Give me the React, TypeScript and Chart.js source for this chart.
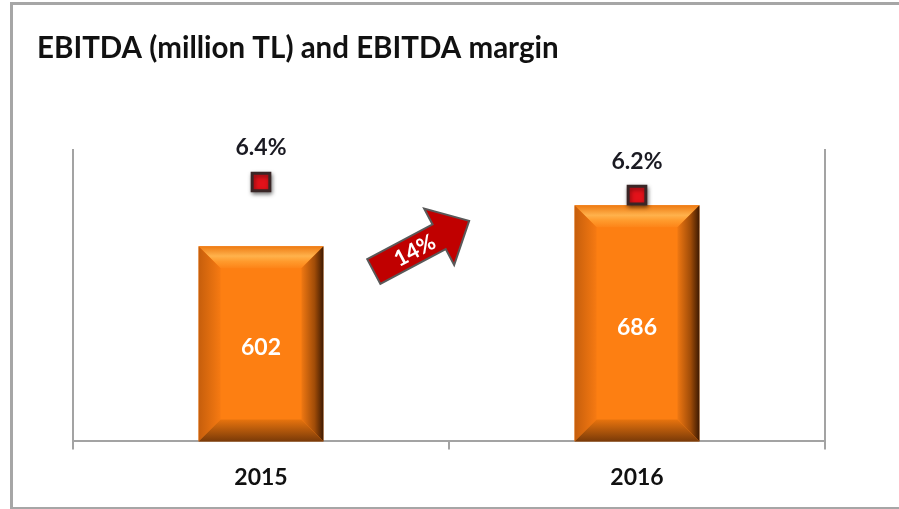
import React, { useEffect, useRef } from 'react';
import { Chart, registerables } from 'chart.js';

Chart.register(...registerables);

const categories = ['2015', '2016'];
const ebitda = [602, 686];
const margin = [6.4, 6.2];
const growthLabel = '14%';
const chartTitle = 'EBITDA (million TL) and EBITDA margin';

const FONT = 'Lato, "Open Sans", sans-serif';
const AXIS_GREY = '#A3A3A3';
const VALUE_MIN = 200;

const bevelPlugin = {
  id: 'bevelBars',
  afterDatasetDraw(chart: any, args: any) {
    if (args.index !== 0) return;
    const ctx = chart.ctx;
    const meta = chart.getDatasetMeta(0);
    meta.data.forEach((bar: any) => {
      const w = bar.width;
      const l = bar.x - w / 2;
      const r = bar.x + w / 2;
      const t = bar.y;
      const b = bar.base;
      const d = 22;
      ctx.save();
      let g = ctx.createLinearGradient(0, t, 0, t + d);
      g.addColorStop(0, '#EE7A12');
      g.addColorStop(0.45, '#FFB24C');
      g.addColorStop(0.7, '#FF9A2C');
      g.addColorStop(1, '#FD8418');
      ctx.fillStyle = g;
      ctx.beginPath();
      ctx.moveTo(l, t); ctx.lineTo(r, t); ctx.lineTo(r - d, t + d); ctx.lineTo(l + d, t + d); ctx.closePath();
      ctx.fill();
      g = ctx.createLinearGradient(l, 0, l + d, 0);
      g.addColorStop(0, '#C65E0C');
      g.addColorStop(1, '#F67A12');
      ctx.fillStyle = g;
      ctx.beginPath();
      ctx.moveTo(l, t); ctx.lineTo(l + d, t + d); ctx.lineTo(l + d, b - d); ctx.lineTo(l, b); ctx.closePath();
      ctx.fill();
      g = ctx.createLinearGradient(r, 0, r - d, 0);
      g.addColorStop(0, '#3E1A02');
      g.addColorStop(0.4, '#A04C08');
      g.addColorStop(1, '#F07812');
      ctx.fillStyle = g;
      ctx.beginPath();
      ctx.moveTo(r, t); ctx.lineTo(r, b); ctx.lineTo(r - d, b - d); ctx.lineTo(r - d, t + d); ctx.closePath();
      ctx.fill();
      g = ctx.createLinearGradient(0, b - d, 0, b);
      g.addColorStop(0, '#E8740E');
      g.addColorStop(1, '#7A3A08');
      ctx.fillStyle = g;
      ctx.beginPath();
      ctx.moveTo(l, b); ctx.lineTo(r, b); ctx.lineTo(r - d, b - d); ctx.lineTo(l + d, b - d); ctx.closePath();
      ctx.fill();
      ctx.restore();
    });
  },
  beforeDatasetDraw(chart: any, args: any) {
    if (args.index !== 1) return;
    const ctx = chart.ctx;
    ctx.save();
    ctx.shadowColor = 'rgba(0,0,0,0.45)';
    ctx.shadowBlur = 4;
    ctx.shadowOffsetX = 1;
    ctx.shadowOffsetY = 2;
  },
};

const shadowRestore = {
  id: 'shadowRestore',
  afterDatasetDraw(chart: any, args: any) {
    if (args.index !== 1) return;
    chart.ctx.restore();
  },
};

const labelsPlugin = {
  id: 'labelsAndDecor',
  afterDraw(chart: any) {
    const ctx = chart.ctx;
    const area = chart.chartArea;
    ctx.save();
    ctx.fillStyle = '#111111';
    ctx.font = `bold 29.5px ${FONT}`;
    ctx.textAlign = 'left';
    ctx.textBaseline = 'alphabetic';
    ctx.fillText(chartTitle, 37, 58);

    const barMeta = chart.getDatasetMeta(0);
    ctx.font = `bold 23px ${FONT}`;
    ctx.fillStyle = '#FFFFFF';
    ctx.textAlign = 'center';
    ctx.textBaseline = 'middle';
    barMeta.data.forEach((bar: any, i: number) => {
      ctx.fillText(String(ebitda[i]), bar.x, (bar.y + bar.base) / 2 + 4);
    });

    const lineMeta = chart.getDatasetMeta(1);
    ctx.fillStyle = '#1A1A22';
    lineMeta.data.forEach((pt: any, i: number) => {
      ctx.fillText(margin[i].toFixed(1) + '%', pt.x, pt.y - 34);
    });

    const cx = area.left + (area.right - area.left) * 0.4;
    const cy = area.top + (area.bottom - area.top) * 0.417;
    const ang = -28 * Math.PI / 180;
    ctx.translate(cx, cy);
    ctx.rotate(ang);
    const L = 108, hl = 34, sw = 14, hw = 32;
    ctx.beginPath();
    ctx.moveTo(0, -sw);
    ctx.lineTo(L - hl, -sw);
    ctx.lineTo(L - hl, -hw);
    ctx.lineTo(L, 0);
    ctx.lineTo(L - hl, hw);
    ctx.lineTo(L - hl, sw);
    ctx.lineTo(0, sw);
    ctx.closePath();
    ctx.fillStyle = '#C00000';
    ctx.fill();
    ctx.lineWidth = 2;
    ctx.strokeStyle = '#595959';
    ctx.stroke();
    ctx.fillStyle = '#FFFFFF';
    ctx.font = `bold 22px ${FONT}`;
    ctx.textAlign = 'center';
    ctx.textBaseline = 'middle';
    ctx.fillText(growthLabel, 46, 1);
    ctx.restore();
  },
};

export default function App() {
  const ref = useRef<HTMLCanvasElement | null>(null);

  useEffect(() => {
    document.body.style.margin = '0';
    if (!ref.current) return;
    const chart = new Chart(ref.current, {
      type: 'bar',
      data: {
        labels: categories,
        datasets: [
          {
            type: 'bar',
            label: 'EBITDA',
            data: ebitda,
            base: VALUE_MIN,
            backgroundColor: '#FD7F12',
            borderWidth: 0,
            barPercentage: 0.332,
            categoryPercentage: 1,
            yAxisID: 'y',
            order: 2,
          } as any,
          {
            type: 'line',
            label: 'EBITDA margin',
            data: margin,
            showLine: false,
            pointStyle: 'rect',
            pointRadius: 12.5,
            pointHoverRadius: 12.5,
            pointBackgroundColor: '#E3121A',
            pointBorderColor: '#3A2626',
            pointBorderWidth: 3,
            yAxisID: 'y1',
            order: 1,
          } as any,
        ],
      },
      options: {
        responsive: false,
        animation: false,
        devicePixelRatio: 1,
        layout: { padding: { left: 65, right: 66, top: 150, bottom: 4 } },
        plugins: {
          legend: { display: false },
          tooltip: { enabled: false },
          title: { display: false },
        },
        scales: {
          x: {
            grid: {
              offset: true,
              drawOnChartArea: false,
              drawTicks: true,
              tickLength: 8,
              color: AXIS_GREY,
              lineWidth: 2,
            },
            border: { display: true, color: AXIS_GREY, width: 2 },
            ticks: {
              color: '#111111',
              font: { family: FONT, size: 23, weight: 'bold' },
              padding: 14,
            },
          },
          y: {
            position: 'left',
            min: VALUE_MIN,
            max: 800,
            grid: { display: false },
            border: { display: true, color: AXIS_GREY, width: 2 },
            ticks: { display: false },
          },
          y1: {
            position: 'right',
            min: 2.43,
            max: 6.89,
            grid: { display: false },
            border: { display: true, color: AXIS_GREY, width: 2 },
            ticks: { display: false },
          },
        },
      },
      plugins: [bevelPlugin, shadowRestore, labelsPlugin],
    });
    return () => chart.destroy();
  }, []);

  return (
    <div style={{ position: 'fixed', left: 0, top: 0, width: 899, height: 509, background: '#fff' }}>
      <canvas ref={ref} width={899} height={509} style={{ display: 'block' }} />
      <div
        style={{
          position: 'absolute',
          left: 10,
          top: 2,
          width: 900,
          height: 502,
          borderTop: '3px solid #A6A6A6',
          borderLeft: '3px solid #A6A6A6',
          borderBottom: '3px solid #A6A6A6',
          boxSizing: 'content-box',
          pointerEvents: 'none',
        }}
      />
    </div>
  );
}
